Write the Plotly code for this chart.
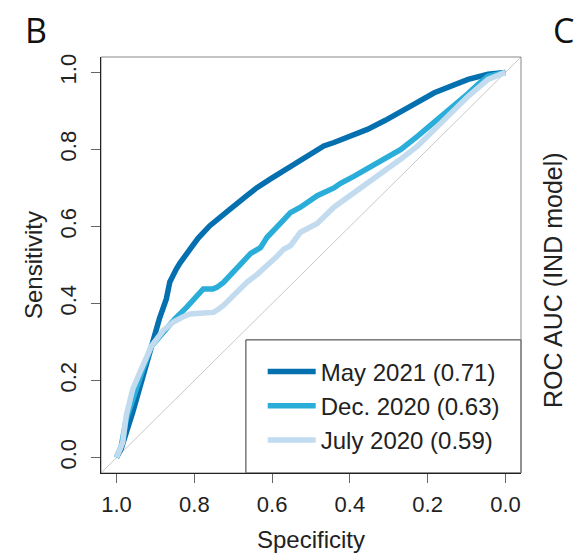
import plotly.graph_objects as go

# ---- data ----
may_spec = [1.0, .988, .958, .932, .91, .89, .872, .863, .846, .837, .811, .79, .76, .73, .708,
            .665, .64, .605, .57, .536, .5, .467, .441, .4, .355, .31, .269, .23, .183, .14, .096, .045, 0.0]
may_sens = [0.0, .023, .119, .213, .29, .36, .412, .456, .49, .505, .541, .57, .602, .625, .645,
            .68, .70, .723, .745, .766, .788, .809, .818, .835, .852, .875, .90, .92, .947, .965, .982, .995, 1.0]

dec_spec = [1.0, .988, .975, .953, .932, .91, .89, .872, .85, .82, .803, .786, .777, .752, .742, .725,
            .70, .682, .655, .63, .613, .58, .553, .527, .484, .441, .424, .39, .355, .31, .269, .225,
            .183, .14, .096, .07, .045, 0.0]
dec_sens = [0.0, .03, .10, .17, .23, .29, .315, .334, .36, .39, .41, .429, .438, .438, .442, .455,
            .48, .503, .53, .545, .572, .607, .636, .65, .68, .70, .712, .73, .75, .775, .80, .835,
            .87, .905, .945, .97, .99, 1.0]

jul_spec = [1.0, .984, .975, .958, .932, .91, .88, .854, .83, .811, .785, .751, .738, .725, .70,
            .665, .639, .622, .59, .57, .553, .527, .484, .441, .424, .39, .355, .31, .269, .225,
            .183, .14, .096, .045, 0.0]
jul_sens = [0.0, .04, .11, .179, .24, .29, .33, .352, .365, .373, .375, .377, .385, .395, .42,
            .455, .475, .49, .52, .541, .55, .585, .608, .65, .662, .69, .714, .745, .775, .81,
            .852, .895, .938, .982, 1.0]

series_names = ["May 2021 (0.71)", "Dec. 2020 (0.63)", "July 2020 (0.59)"]
series_colors = ["#0570b0", "#2aaed9", "#c2dbef"]
x_ticks = [1.0, 0.8, 0.6, 0.4, 0.2, 0.0]
x_ticktext = ["1.0", "0.8", "0.6", "0.4", "0.2", "0.0"]
y_ticks = [0.0, 0.2, 0.4, 0.6, 0.8, 1.0]
y_ticktext = ["0.0", "0.2", "0.4", "0.6", "0.8", "1.0"]

FONT = "Liberation Sans, Arial, Helvetica, sans-serif"

fig = go.Figure()
for name, col, xs, ys in zip(series_names, series_colors,
                             [may_spec, dec_spec, jul_spec],
                             [may_sens, dec_sens, jul_sens]):
    fig.add_trace(go.Scatter(x=xs, y=ys, mode="lines", name=name, legendgroup=name,
                             line=dict(color=col, width=5.5)))

W, H = 577, 555
L, R, T, B = 101, 56, 57, 82

fig.update_layout(
    width=W, height=H,
    margin=dict(l=L, r=R, t=T, b=B),
    paper_bgcolor="white", plot_bgcolor="white",
    font=dict(family=FONT, size=22, color="#222"),
    showlegend=True,
    legend=dict(x=0.385, y=0.297, xanchor="left", yanchor="top",
                bgcolor="rgba(0,0,0,0)", borderwidth=0,
                font=dict(size=24, family=FONT, color="#222"),
                itemwidth=48, tracegroupgap=0, traceorder="grouped"),
    xaxis=dict(range=[1.04, -0.04], tickvals=x_ticks, ticktext=x_ticktext,
               ticks="outside", ticklen=9, tickcolor="#666", tickwidth=1,
               showline=True, linecolor="#222", linewidth=1, automargin=False,
               showgrid=False, zeroline=False, ticklabelstandoff=3,
               title=dict(text="Specificity", font=dict(size=24, family=FONT), standoff=14)),
    yaxis=dict(range=[-0.04, 1.04], tickvals=y_ticks, ticktext=y_ticktext,
               ticks="outside", ticklen=9, tickcolor="#666", tickwidth=1,
               showline=True, linecolor="#222", linewidth=1, tickangle=-90, automargin=False,
               showgrid=False, zeroline=False, ticklabelstandoff=6,
               title=dict(text="Sensitivity", font=dict(size=24, family=FONT), standoff=6)),
    shapes=[
        dict(type="line", xref="paper", yref="paper", x0=0, y0=0, x1=1, y1=1,
             line=dict(color="#c8c8c8", width=1), layer="below"),
        dict(type="rect", xref="paper", yref="paper", x0=0.345, y0=0, x1=1, y1=0.32,
             line=dict(color="#333", width=1), fillcolor="white", layer="below"),
        dict(type="rect", xref="paper", yref="paper", x0=0, y0=0, x1=1, y1=1,
             line=dict(color="#888", width=1), layer="below"),
    ],
    annotations=[
        dict(text="B", xref="paper", yref="paper", x=(23 - L) / 420, y=1 + (T - 5) / 416,
             xanchor="left", yanchor="top", showarrow=False,
             font=dict(family="Open Sans, DejaVu Sans, sans-serif", size=34, color="#111")),
        dict(text="C", xref="paper", yref="paper", x=(551 - L) / 420, y=1 + (T - 5) / 416,
             xanchor="left", yanchor="top", showarrow=False,
             font=dict(family="Open Sans, DejaVu Sans, sans-serif", size=34, color="#111")),
        dict(text="ROC AUC (IND model)", xref="paper", yref="paper",
             x=(553 - L) / 420, y=(473 - 280) / 416, xanchor="center", yanchor="middle",
             textangle=-90, showarrow=False,
             font=dict(family=FONT, size=25, color="#222")),
    ],
)

fig.write_html("out.html")
